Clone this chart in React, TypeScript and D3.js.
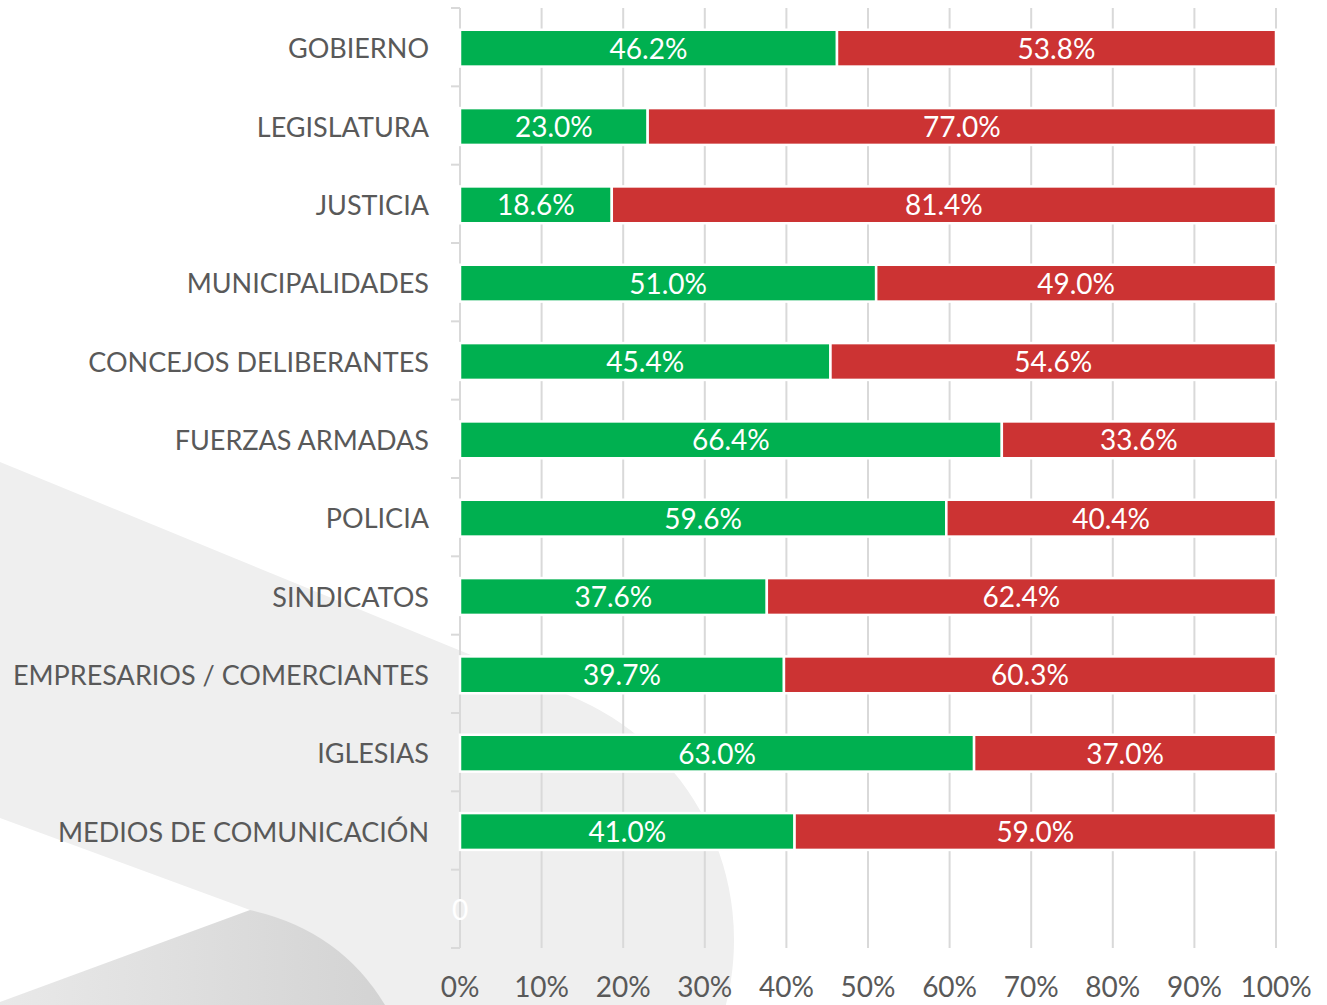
import React from 'react';
import * as d3 from 'd3';

const categories = [
  'GOBIERNO',
  'LEGISLATURA',
  'JUSTICIA',
  'MUNICIPALIDADES',
  'CONCEJOS DELIBERANTES',
  'FUERZAS ARMADAS',
  'POLICIA',
  'SINDICATOS',
  'EMPRESARIOS / COMERCIANTES',
  'IGLESIAS',
  'MEDIOS DE COMUNICACIÓN',
];
const positive = [46.2, 23.0, 18.6, 51.0, 45.4, 66.4, 59.6, 37.6, 39.7, 63.0, 41.0];
const negative = [53.8, 77.0, 81.4, 49.0, 54.6, 33.6, 40.4, 62.4, 60.3, 37.0, 59.0];
const xTicks = [0, 10, 20, 30, 40, 50, 60, 70, 80, 90, 100];
const blankLabel = '0';

const W = 1327;
const H = 1005;
const GREEN = '#00b050';
const RED = '#cc3333';
const TEXT = '#595959';
const GRID = '#d9d9d9';
const FONT = 'Lato, "Open Sans", sans-serif';

export default function App() {
  const x = d3.scaleLinear().domain([0, 100]).range([460, 1276]);
  const domain = [...categories, ''];
  const y = d3.scaleBand<string>().domain(domain).range([9, 949]).paddingInner(0.53).paddingOuter(0.265);
  const step = y.step();
  const top = 8;
  const bottom = 948;

  const stacked = categories.map((c, i) => ({ c, pos: positive[i], neg: negative[i] }));

  // decorative background
  const cx = 470, cy = 940, r = 264;
  const slope = 0.409;
  const th = Math.atan(slope);
  const tx = cx + r * Math.sin(th);
  const ty = cy - r * Math.cos(th);
  const endX = cx + Math.sqrt(r * r - (H - cy) * (H - cy));
  const lightPath = `M0,462 L${tx},${ty} A${r},${r} 0 0 1 ${endX},${H} L380,${H} L250,910 L0,818 Z`;
  const darkPath = `M0,1002 L250,910 Q340,930 385,${H} L0,${H} Z`;

  const boundaries = d3.range(domain.length + 1).map((i) => top + i * step);

  return (
    <div style={{ position: 'absolute', left: 0, top: 0, width: W, height: H, overflow: 'hidden' }}>
      <svg width={W} height={H} style={{ display: 'block', background: '#ffffff' }}>
        <defs>
          <linearGradient id="darkGrad" x1="0" y1="0" x2="1" y2="0">
            <stop offset="0%" stopColor="#e9e9e9" />
            <stop offset="100%" stopColor="#d3d3d3" />
          </linearGradient>
        </defs>
        <path d={lightPath} fill="#efefef" />
        <path d={darkPath} fill="url(#darkGrad)" />

        {/* gridlines */}
        {xTicks.filter((t) => t > 0).map((t) => (
          <line key={'g' + t} x1={x(t)} x2={x(t)} y1={top} y2={bottom} stroke={GRID} strokeWidth={2} />
        ))}
        {/* left axis */}
        <line x1={x(0)} x2={x(0)} y1={top} y2={bottom} stroke={GRID} strokeWidth={2} />
        {boundaries.map((b, i) => (
          <line key={'t' + i} x1={x(0) - 9} x2={x(0)} y1={b} y2={b} stroke={GRID} strokeWidth={2} />
        ))}

        {/* bars */}
        {stacked.map((d) => (
          <g key={d.c}>
            <rect
              x={x(0)}
              y={y(d.c)}
              width={x(d.pos) - x(0)}
              height={y.bandwidth()}
              fill={GREEN}
              stroke="#ffffff"
              strokeWidth={2.5}
            />
            <rect
              x={x(d.pos)}
              y={y(d.c)}
              width={x(d.pos + d.neg) - x(d.pos)}
              height={y.bandwidth()}
              fill={RED}
              stroke="#ffffff"
              strokeWidth={2.5}
            />
            <text
              x={(x(0) + x(d.pos)) / 2}
              y={(y(d.c) as number) + y.bandwidth() / 2}
              dy="0.38em"
              textAnchor="middle"
              fill="#ffffff"
              fontFamily={FONT}
              fontSize={28}
            >
              {d.pos.toFixed(1)}%
            </text>
            <text
              x={(x(d.pos) + x(d.pos + d.neg)) / 2}
              y={(y(d.c) as number) + y.bandwidth() / 2}
              dy="0.38em"
              textAnchor="middle"
              fill="#ffffff"
              fontFamily={FONT}
              fontSize={28}
            >
              {d.neg.toFixed(1)}%
            </text>
          </g>
        ))}

        {/* blank row label */}
        <text
          x={x(0)}
          y={(y('') as number) + y.bandwidth() / 2}
          dy="0.38em"
          textAnchor="middle"
          fill="#ffffff"
          fontFamily={FONT}
          fontSize={28}
        >
          {blankLabel}
        </text>

        {/* category labels */}
        {categories.map((c) => (
          <text
            key={'l' + c}
            x={429}
            y={(y(c) as number) + y.bandwidth() / 2}
            dy="0.38em"
            textAnchor="end"
            fill={TEXT}
            fontFamily={FONT}
            fontSize={27}
          >
            {c}
          </text>
        ))}

        {/* x tick labels */}
        {xTicks.map((t) => (
          <text
            key={'x' + t}
            x={x(t)}
            y={987}
            dy="0.36em"
            textAnchor="middle"
            fill={TEXT}
            fontFamily={FONT}
            fontSize={28}
          >
            {t}%
          </text>
        ))}
      </svg>
    </div>
  );
}
